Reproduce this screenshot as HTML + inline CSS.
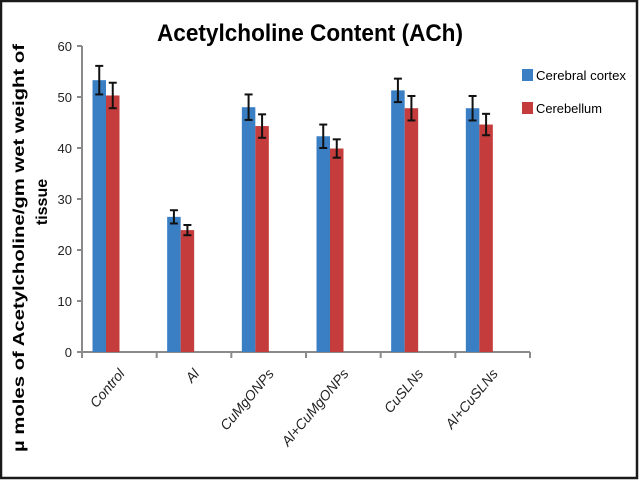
<!DOCTYPE html>
<html><head><meta charset="utf-8"><style>
html,body{margin:0;padding:0;background:#fff;}
svg{display:block;font-family:"Liberation Sans",sans-serif;}
</style></head><body>
<svg id="chart" width="640" height="480" viewBox="0 0 640 480">
<rect x="1" y="1" width="636" height="477" fill="#fff" stroke="#1a1a1a" stroke-width="2.5"/>
<text x="310" y="41" text-anchor="middle" font-size="24" font-weight="bold" textLength="306" lengthAdjust="spacingAndGlyphs">Acetylcholine Content (ACh)</text>
<text transform="translate(24,248) rotate(-90)" text-anchor="middle" font-size="16" font-weight="bold" textLength="408" lengthAdjust="spacingAndGlyphs">µ moles of Acetylcholine/gm wet weight of</text>
<text transform="translate(47,202) rotate(-90)" text-anchor="middle" font-size="16" font-weight="bold">tissue</text>
<g id="axes"></g>
<g id="bars"></g>
<g>
<rect x="522" y="69" width="11" height="12" fill="#3a7fc4"/>
<text x="536" y="80" font-size="13" textLength="90" lengthAdjust="spacingAndGlyphs">Cerebral cortex</text>
<rect x="522" y="102" width="11" height="12" fill="#c43c3c"/>
<text x="536" y="113" font-size="13" textLength="66" lengthAdjust="spacingAndGlyphs">Cerebellum</text>
</g>
</svg>
<script>
const categories=["Control","Al","CuMgONPs","Al+CuMgONPs","CuSLNs","Al+CuSLNs"];
const cortex=[53.3,26.5,48.0,42.3,51.3,47.8];
const cortexErr=[2.8,1.3,2.5,2.3,2.3,2.4];
const cerebellum=[50.3,23.9,44.3,39.9,47.8,44.6];
const cerebellumErr=[2.5,1.0,2.3,1.8,2.4,2.1];
const yTicks=[0,10,20,30,40,50,60];
const NS="http://www.w3.org/2000/svg";
const x0=82,x1=530,y0=352,yTop=46,yMax=60;
const cw=(x1-x0)/categories.length;
function ys(v){return y0-(v/yMax)*(y0-yTop);}
function mk(t,a,p){const e=document.createElementNS(NS,t);for(const k in a)e.setAttribute(k,a[k]);p.appendChild(e);return e;}
const ax=document.getElementById('axes'),bg=document.getElementById('bars');
const yl=mk('line',{x1:x0,y1:yTop,x2:x0,y2:y0,stroke:'#8a8a8a','stroke-width':2},ax);


const xl=mk('line',{x1:x0-5,y1:y0,x2:x1,y2:y0,stroke:'#8a8a8a','stroke-width':2},ax);


yTicks.forEach(v=>{
 const t=mk('line',{x1:x0-5,y1:ys(v),x2:x0,y2:ys(v),stroke:'#8a8a8a','stroke-width':2},ax);
 
 
 const l=mk('text',{x:x0-10,y:ys(v)+5,'text-anchor':'end','font-size':13,fill:'#222'},ax);
 l.textContent=v;
 
 
});
for(let i=0;i<=categories.length;i++){
 const t=mk('line',{x1:x0+i*cw,y1:y0,x2:x0+i*cw,y2:y0+6,stroke:'#8a8a8a','stroke-width':2},ax);
 
 
}
function err(cx,v,e){
 const g=mk('g',{stroke:'#111','stroke-width':2},bg);
 
 
 mk('line',{x1:cx,y1:ys(v+e),x2:cx,y2:ys(v-e)},g);
 mk('line',{x1:cx-4,y1:ys(v+e),x2:cx+4,y2:ys(v+e)},g);
 mk('line',{x1:cx-4,y1:ys(v-e),x2:cx+4,y2:ys(v-e)},g);
}
const bw=13.5;
categories.forEach((c,i)=>{
 const bx=x0+i*cw+10.5;
 const b1=mk('rect',{x:bx,y:ys(cortex[i]),width:bw,height:y0-ys(cortex[i]),fill:'#3a7fc4'},bg);
 
 
 const b2=mk('rect',{x:bx+bw,y:ys(cerebellum[i]),width:bw,height:y0-ys(cerebellum[i]),fill:'#c43c3c'},bg);
 
 
 err(bx+bw/2,cortex[i],cortexErr[i]);
 err(bx+bw*1.5,cerebellum[i],cerebellumErr[i]);
 const cx=x0+i*cw+cw/2+6;
 const l=mk('text',{transform:`translate(${cx},374) rotate(-50)`,'text-anchor':'end','font-size':14,'font-style':'italic',fill:'#222'},ax);
 l.textContent=c;
 
 
});
</script>
</body></html>
